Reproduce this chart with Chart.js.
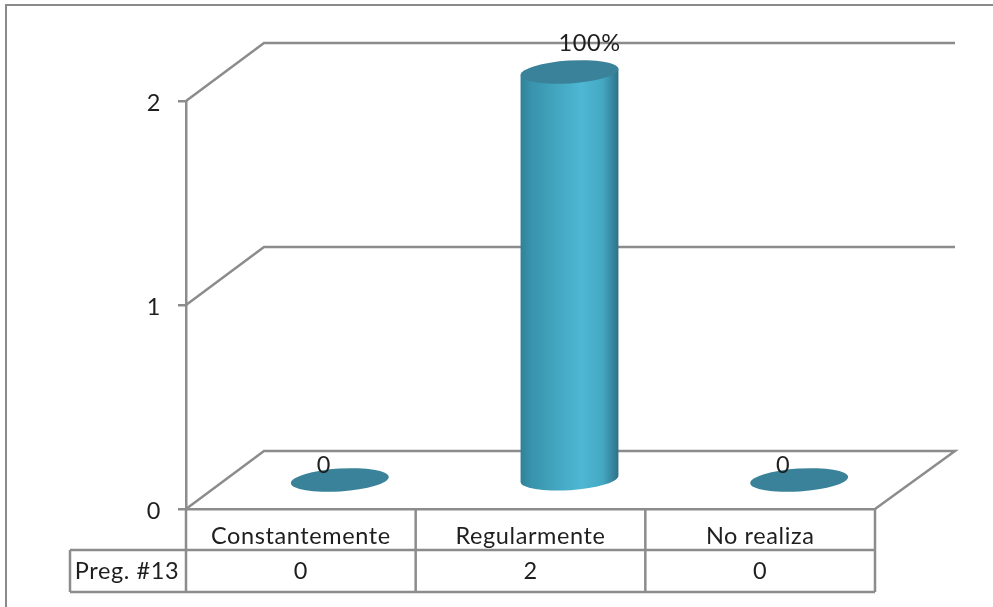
<!DOCTYPE html>
<html>
<head>
<meta charset="utf-8">
<title>Preg. #13</title>
<style>
  html, body { margin: 0; padding: 0; background: #fff; overflow: hidden; }
  #frame { position: absolute; left: 5px; top: 4px; width: 988px; height: 603px;
           border-left: 2.5px solid #8a8a8a; border-top: 2.5px solid #8a8a8a; box-sizing: border-box; }
  canvas { position: absolute; left: 0; top: 0; }
</style>
<script src="https://cdn.jsdelivr.net/npm/chart.js@4/dist/chart.umd.min.js"></script>
</head>
<body>
<div id="frame"></div>
<canvas id="chart" width="993" height="607"></canvas>
<script>
// Categories, series and the labels written above the cylinders
var categories = ["Constantemente", "Regularmente", "No realiza"];
var seriesName = "Preg. #13";
var seriesValues = [0, 2, 0];
var pointLabels = ["0", "100%", "0"];
var yTicks = [0, 1, 2];

var lineColor = "#8c8c8c";
var lineSize = 2.5;
var textColor = "#1e1e1e";
var fontName = "Lato";
var fontSize = 23.5;

// How far the back wall sits from the front plane
var depthX = 78;
var depthY = -58;
var backRight = 955;

function drawWalls(chart) {
    var ctx = chart.ctx;
    var y = chart.scales.y;
    var area = chart.chartArea;
    ctx.save();
    ctx.strokeStyle = lineColor;
    ctx.lineWidth = lineSize;
    yTicks.forEach(function(t) {
        var py = y.getPixelForValue(t);
        ctx.beginPath();
        ctx.moveTo(area.left, py);
        ctx.lineTo(area.left + depthX, py + depthY);
        ctx.lineTo(backRight, py + depthY);
        if (t === 0) {
            ctx.lineTo(area.right, py);
        }
        ctx.stroke();
    });
    ctx.restore();
}

function drawCylinder(ctx, bar) {
    var cx = bar.x + depthX / 2;
    var top = bar.y + depthY / 2;
    var bottom = bar.base + depthY / 2;
    var rx = bar.width / 2;
    var ry = 11.4;
    var tilt = -0.065;
    var dx = rx * Math.cos(tilt);
    var dy = rx * Math.sin(tilt);

    if (bottom - top > 1) {
        var grad = ctx.createLinearGradient(cx - dx, 0, cx + dx, 0);
        grad.addColorStop(0, "#2f8199");
        grad.addColorStop(0.1, "#3892ab");
        grad.addColorStop(0.35, "#42a5bf");
        grad.addColorStop(0.62, "#4eb7d3");
        grad.addColorStop(0.84, "#45a8c3");
        grad.addColorStop(0.95, "#35829a");
        grad.addColorStop(1, "#2e7286");
        ctx.fillStyle = grad;
        ctx.beginPath();
        ctx.moveTo(cx - dx, top - dy);
        ctx.lineTo(cx - dx, bottom - dy);
        ctx.ellipse(cx, bottom, rx, ry, tilt, Math.PI, 0, true);
        ctx.lineTo(cx + dx, top + dy);
        ctx.closePath();
        ctx.fill();
    }

    ctx.fillStyle = "#3a8299";
    ctx.beginPath();
    ctx.ellipse(cx, top, rx, ry, tilt, 0, Math.PI * 2);
    ctx.fill();
}

// Table under the plot: category row plus one row for the series
function drawTable(chart) {
    var ctx = chart.ctx;
    var x = chart.scales.x;
    var area = chart.chartArea;
    var step = x.getPixelForValue(1) - x.getPixelForValue(0);
    var row1 = area.bottom + 41;
    var row2 = row1 + 42;
    var keyLeft = 70;

    ctx.save();
    ctx.strokeStyle = lineColor;
    ctx.lineWidth = lineSize;
    ctx.beginPath();
    ctx.moveTo(keyLeft, row1);
    ctx.lineTo(area.right, row1);
    ctx.moveTo(keyLeft, row2);
    ctx.lineTo(area.right, row2);
    ctx.moveTo(keyLeft, row1);
    ctx.lineTo(keyLeft, row2);
    categories.forEach(function(c, i) {
        var edge = x.getPixelForValue(i) - step / 2;
        ctx.moveTo(edge, area.bottom);
        ctx.lineTo(edge, row2);
    });
    ctx.moveTo(area.right, area.bottom);
    ctx.lineTo(area.right, row2);
    ctx.stroke();

    ctx.fillStyle = textColor;
    ctx.font = fontSize + "px " + fontName;
    ctx.textAlign = "center";
    ctx.textBaseline = "middle";
    ctx.fillText(seriesName, (keyLeft + area.left) / 2 - 1, (row1 + row2) / 2);
    seriesValues.forEach(function(v, i) {
        ctx.fillText(String(v), x.getPixelForValue(i), (row1 + row2) / 2);
    });
    ctx.restore();
}

// Value axis numbers, set a little below their tick marks
function drawYLabels(chart) {
    var ctx = chart.ctx;
    var y = chart.scales.y;
    ctx.save();
    ctx.fillStyle = textColor;
    ctx.font = fontSize + "px " + fontName;
    ctx.textAlign = "right";
    ctx.textBaseline = "middle";
    yTicks.forEach(function(t) {
        ctx.fillText(String(t), y.right - 25, y.getPixelForValue(t) + 2);
    });
    ctx.restore();
}

var cylinderPlugin = {
    id: "cylinders",
    beforeDraw: function(chart) {
        // The labels run wider than the font's default spacing
        chart.ctx.letterSpacing = "0.6px";
    },
    beforeDatasetsDraw: function(chart) {
        drawWalls(chart);
    },
    afterDatasetsDraw: function(chart) {
        var ctx = chart.ctx;
        var bars = chart.getDatasetMeta(0).data;
        ctx.save();
        bars.forEach(function(bar) {
            drawCylinder(ctx, bar);
        });
        // Value labels sit over the tops of the cylinders
        ctx.fillStyle = textColor;
        ctx.font = fontSize + "px " + fontName;
        ctx.textAlign = "center";
        ctx.textBaseline = "middle";
        bars.forEach(function(bar, i) {
            var shift = seriesValues[i] > 0 ? 59 : 23;
            ctx.fillText(pointLabels[i], bar.x + shift, bar.y + depthY + (seriesValues[i] > 0 ? 0 : 14));
        });
        ctx.restore();
        drawYLabels(chart);
        drawTable(chart);
    }
};

var mainChart = new Chart(document.getElementById("chart"), {
    type: "bar",
    data: {
        labels: categories,
        datasets: [{
            label: seriesName,
            data: seriesValues,
            backgroundColor: "transparent",
            borderWidth: 0,
            categoryPercentage: 1,
            barPercentage: 0.427
        }]
    },
    options: {
        responsive: false,
        animation: false,
        layout: { padding: { left: 0, top: 101, right: 118, bottom: 0 } },
        plugins: {
            legend: { display: false },
            title: { display: false },
            tooltip: { enabled: false }
        },
        scales: {
            x: {
                afterFit: function(scale) { scale.height = 98; },
                grid: { display: false, drawTicks: false },
                border: { color: lineColor, width: lineSize },
                ticks: {
                    padding: 13,
                    maxRotation: 0,
                    color: textColor,
                    font: { family: fontName, size: fontSize }
                }
            },
            y: {
                min: 0,
                max: 2,
                afterFit: function(scale) { scale.width = 186; },
                afterBuildTicks: function(scale) {
                    scale.ticks = yTicks.map(function(v) { return { value: v }; });
                },
                grid: { drawOnChartArea: false, tickLength: 8, color: lineColor, lineWidth: lineSize },
                border: { color: lineColor, width: lineSize },
                ticks: { display: false }
            }
        }
    },
    plugins: [cylinderPlugin]
});
</script>
</body>
</html>
